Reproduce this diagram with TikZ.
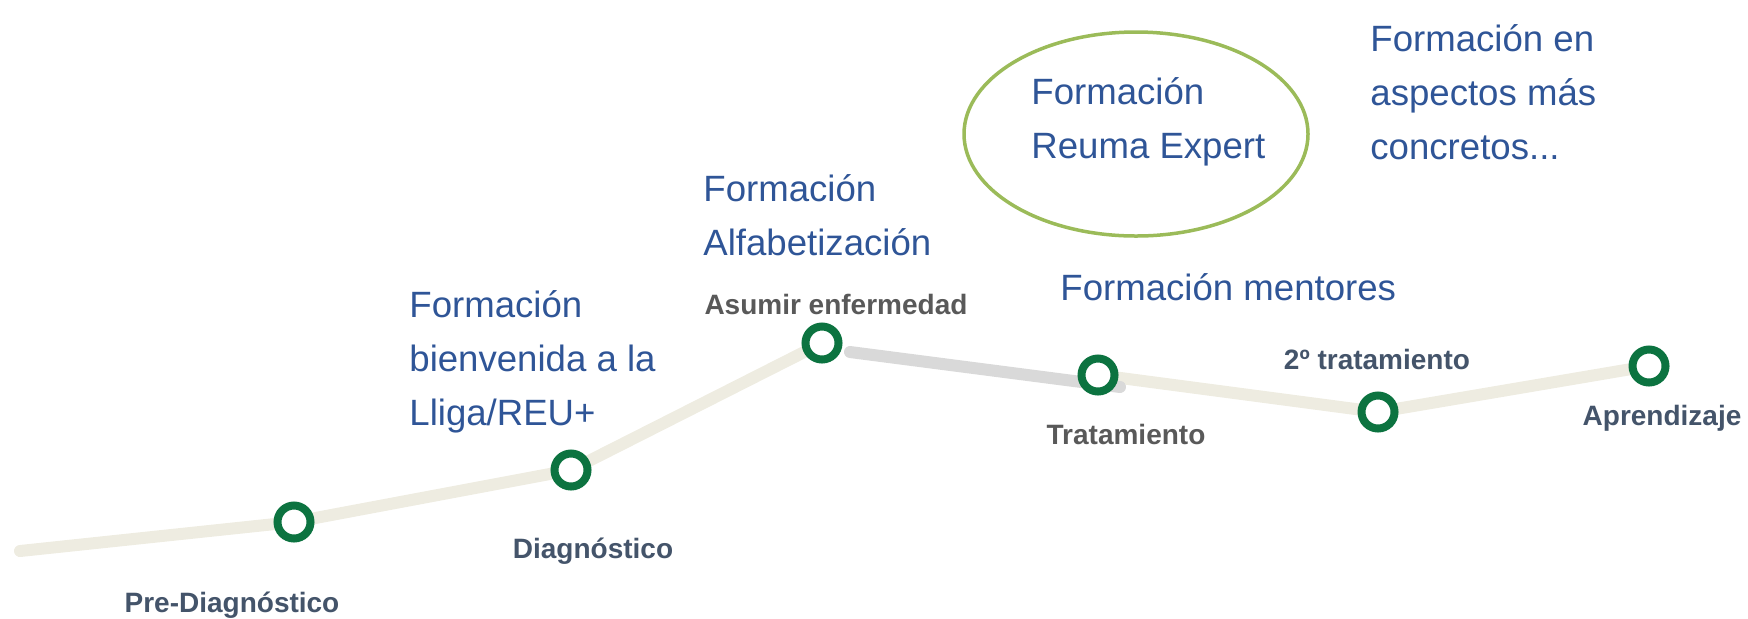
\documentclass[tikz,border=0pt]{standalone}
\usepackage{fontspec}
\setmainfont{Liberation Sans}
\usetikzlibrary{shapes.geometric,backgrounds}
\definecolor{trackbeige}{HTML}{EEECE1}
\definecolor{trackgrey}{HTML}{D9D9D9}
\definecolor{stopgreen}{HTML}{0C7340}
\definecolor{courseblue}{HTML}{2F5597}
\definecolor{stageslate}{HTML}{44546A}
\definecolor{stagegrey}{HTML}{595959}
\definecolor{expertgreen}{HTML}{9BBB59}

\begin{document}
\begin{tikzpicture}[x=0.5pt, y=-0.5pt,
  stop/.style={draw=stopgreen, circle, fill=white, line width=4pt, minimum size=16.5pt, inner sep=0pt},
  stage/.style={font=\bfseries\fontsize{14}{16}\selectfont, text=stageslate, anchor=base, inner sep=0pt},
  course/.style={font=\fontsize{18.3}{27}\selectfont, text=courseblue, align=left, anchor=base west, inner sep=0pt},
  track/.style={line width=6pt, line cap=round, line join=round}]
\useasboundingbox (0,0) rectangle (1748,618);
% stops
\coordinate (T0) at (20,551);
\coordinate (G0) at (850,352);
\coordinate (G1) at (1120,387);
\node[stop] (N1) at (294,522) {};
\node[stop] (N2) at (571,470) {};
\node[stop] (N3) at (822,343) {};
\node[stop] (N4) at (1098,375) {};
\node[stop] (N5) at (1378,412) {};
\node[stop] (N6) at (1649,366) {};
% track
\begin{scope}[on background layer]
\draw[track, trackbeige] (T0) -- (N1.center) -- (N2.center) -- (N3.center);
\draw[track, trackbeige] (N4.center) -- (N5.center) -- (N6.center);
\draw[track, trackgrey] (G0) -- (G1);
\end{scope}
% stages
\node[stage] (S1) at (232,612) {Pre-Diagnóstico};
\node[stage] (S2) at (593,558) {Diagnóstico};
\node[stage, text=stagegrey] (S3) at (836,314) {Asumir enfermedad};
\node[stage, text=stagegrey] (S4) at (1126,444) {Tratamiento};
\node[stage] (S5) at (1377,369) {2º tratamiento};
\node[stage] (S6) at (1662,425) {Aprendizaje};
% courses (base = last line)
\node[course] (C1) at (409,425) {Formación\\bienvenida a la\\Lliga/REU+};
\node[course] (C2) at (703,255) {Formación\\Alfabetización};
\node[course] (C3) at (1060,300) {Formación mentores};
\node[draw=expertgreen, line width=1.75pt, ellipse, minimum width=172pt, minimum height=102pt, inner sep=0pt] (E1) at (1136,134) {};
\node[course] (C4) at (1031,158) {Formación\\Reuma Expert};
\node[course] (C5) at (1370,159) {Formación en\\aspectos más\\concretos...};
\end{tikzpicture}
\end{document}
